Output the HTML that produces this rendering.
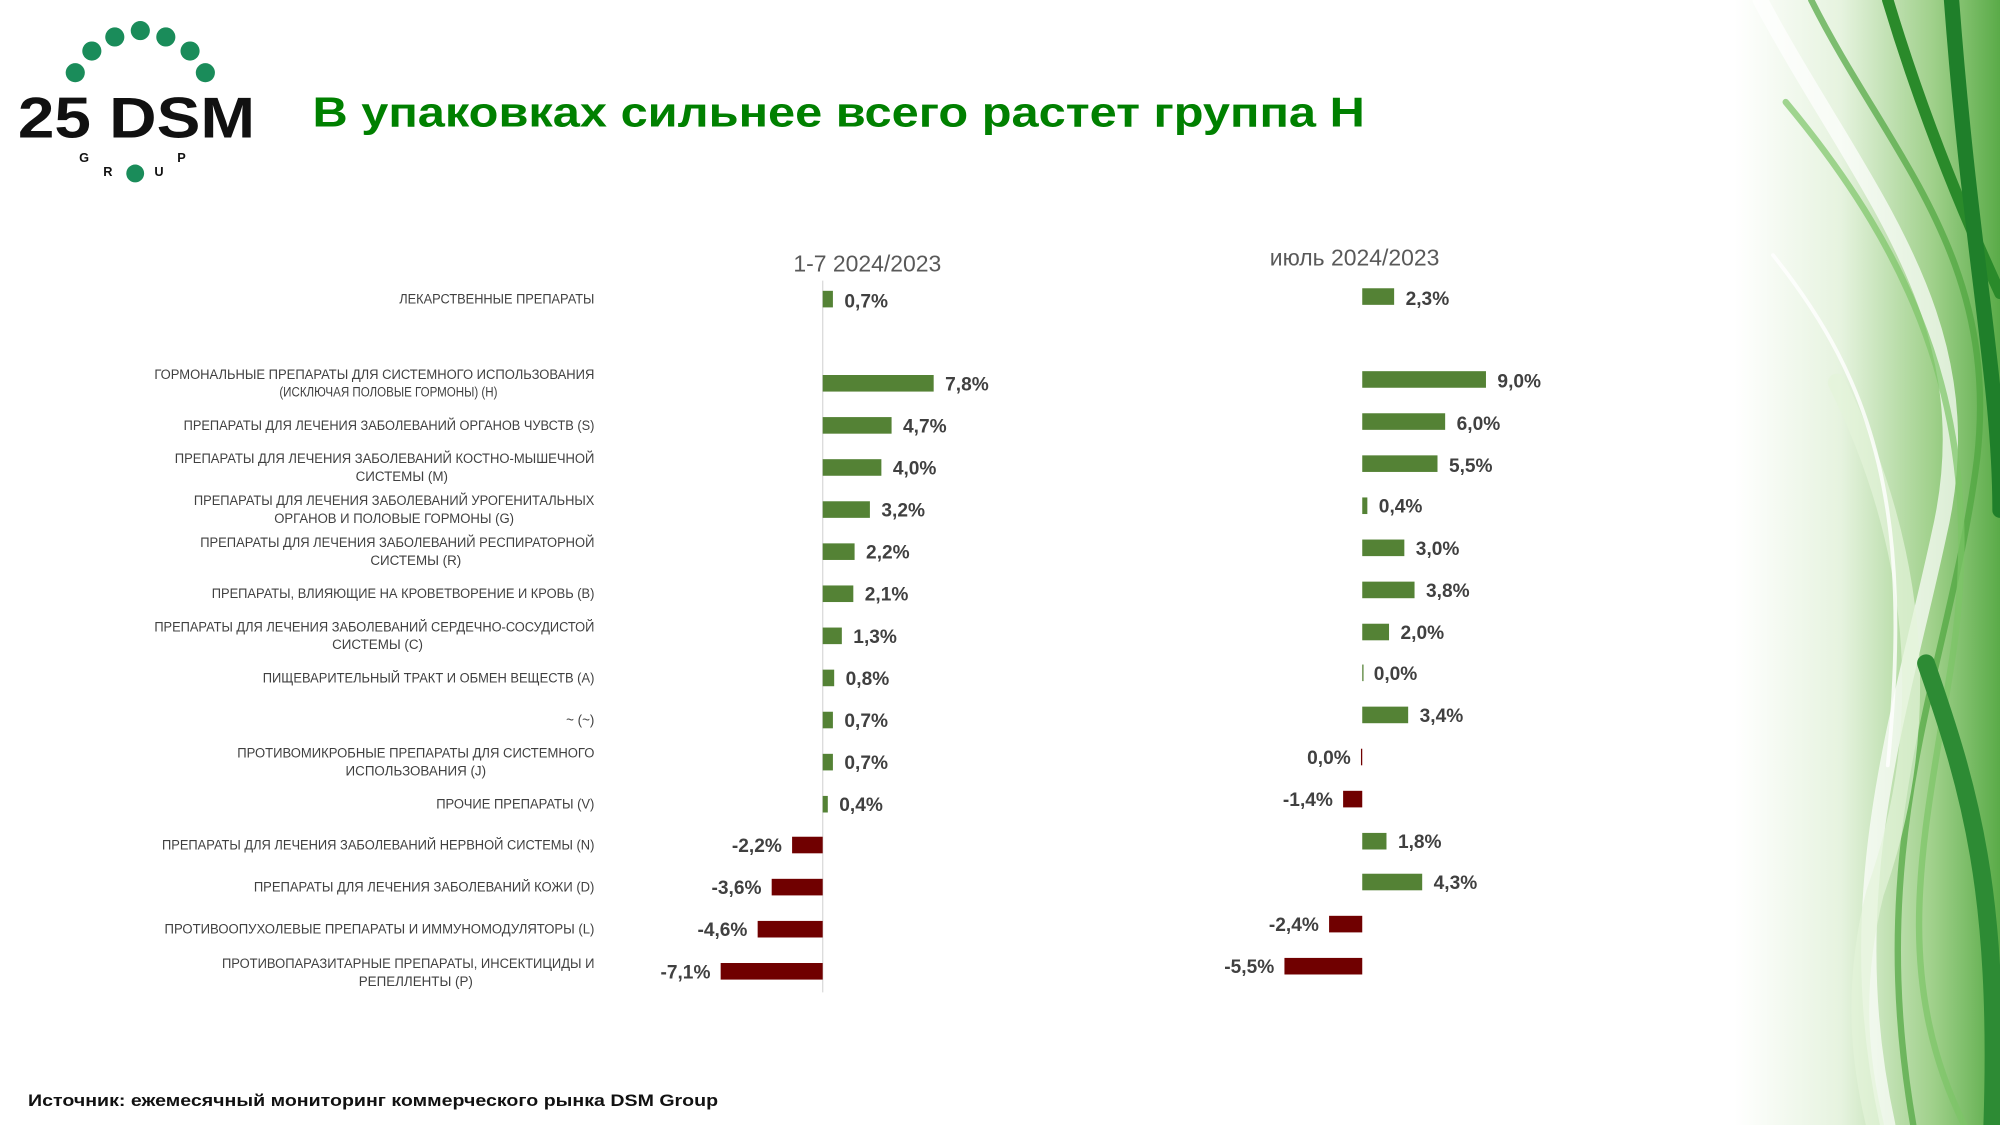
<!DOCTYPE html>
<html><head><meta charset="utf-8"><style>
html,body{margin:0;padding:0;background:#fff;}
svg{display:block;}
.lb{font-family:"Liberation Sans Narrow","Liberation Sans",sans-serif;font-size:10.5px;fill:#404040;}
.v{font-family:"Liberation Sans Narrow","Liberation Sans",sans-serif;font-size:15px;font-weight:bold;fill:#404040;}
</style></head><body>
<svg width="2000" height="1125" viewBox="0 0 1568 882" xmlns="http://www.w3.org/2000/svg">
<defs>
<linearGradient id="bg" x1="0" y1="0" x2="1" y2="0">
<stop offset="0" stop-color="#ffffff"/><stop offset="0.4" stop-color="#e6f3df"/><stop offset="0.75" stop-color="#9fd08a"/><stop offset="1" stop-color="#5aab48"/>
</linearGradient>
</defs>
<rect x="1360" y="0" width="208" height="882" fill="url(#bg)"/>
<g fill="none" stroke-linecap="round">
<path d="M1380 0 C1460 150 1560 250 1520 420 C1490 560 1440 700 1480 882" stroke="#ffffff" stroke-width="12" opacity="0.7"/>
<path d="M1420 0 C1480 120 1568 200 1550 360 C1530 520 1460 650 1500 882" stroke="#4ea53e" stroke-width="5" opacity="0.7"/>
<path d="M1480 0 C1510 100 1545 180 1568 230" stroke="#2a8a2a" stroke-width="9"/>
<path d="M1400 80 C1500 200 1560 330 1530 520 C1510 650 1480 760 1540 882" stroke="#7cc466" stroke-width="5" opacity="0.7"/>
<path d="M1440 300 C1500 420 1520 560 1470 700 C1450 780 1460 840 1470 882" stroke="#e4f4da" stroke-width="14" opacity="0.7"/>
<path d="M1530 0 C1545 200 1568 300 1568 400" stroke="#1f7f2a" stroke-width="12"/>
<path d="M1510 520 C1545 620 1568 700 1562 882" stroke="#2d8b34" stroke-width="14"/>
<path d="M1390 200 C1470 300 1500 400 1480 600" stroke="#ffffff" stroke-width="3" opacity="0.8"/>
</g>
<!-- logo -->
<g fill="#1a8c5a">
<circle cx="110" cy="24" r="7.5"/><circle cx="90" cy="29" r="7.5"/><circle cx="130" cy="29" r="7.5"/>
<circle cx="72" cy="40" r="7.5"/><circle cx="149" cy="40" r="7.5"/><circle cx="59" cy="57" r="7.5"/><circle cx="161" cy="57" r="7.5"/>
<circle cx="106" cy="136" r="7"/>
</g>
<text x="14" y="108" font-family="Liberation Sans,sans-serif" font-weight="bold" font-size="45" fill="#111" textLength="186" lengthAdjust="spacingAndGlyphs">25 DSM</text>
<g font-family="Liberation Sans,sans-serif" font-weight="bold" font-size="10" fill="#111">
<text x="62" y="127">G</text><text x="81" y="138">R</text><text x="121" y="138">U</text><text x="139" y="127">P</text>
</g>
<text x="245" y="99" font-family="Liberation Sans,sans-serif" font-weight="bold" font-size="33" fill="#008000" textLength="825" lengthAdjust="spacingAndGlyphs">В упаковках сильнее всего растет группа H</text>
<text x="680" y="213" text-anchor="middle" font-family="Liberation Sans Narrow,Liberation Sans,sans-serif" font-size="18" fill="#595959">1-7 2024/2023</text>
<text x="1062" y="208" text-anchor="middle" font-family="Liberation Sans Narrow,Liberation Sans,sans-serif" font-size="18" fill="#595959">июль 2024/2023</text>
<line x1="645" y1="220" x2="645" y2="778" stroke="#d9d9d9" stroke-width="1"/>
<g class="lb">
<text x="466" y="238" text-anchor="end" textLength="153" lengthAdjust="spacingAndGlyphs">ЛЕКАРСТВЕННЫЕ ПРЕПАРАТЫ</text>
<text x="466" y="297" text-anchor="end" textLength="345" lengthAdjust="spacingAndGlyphs">ГОРМОНАЛЬНЫЕ ПРЕПАРАТЫ ДЛЯ СИСТЕМНОГО ИСПОЛЬЗОВАНИЯ</text>
<text x="219" y="311" textLength="171" lengthAdjust="spacingAndGlyphs">(ИСКЛЮЧАЯ ПОЛОВЫЕ ГОРМОНЫ) (H)</text>
<text x="466" y="337" text-anchor="end" textLength="322" lengthAdjust="spacingAndGlyphs">ПРЕПАРАТЫ ДЛЯ ЛЕЧЕНИЯ ЗАБОЛЕВАНИЙ ОРГАНОВ ЧУВСТВ (S)</text>
<text x="466" y="363" text-anchor="end" textLength="329" lengthAdjust="spacingAndGlyphs">ПРЕПАРАТЫ ДЛЯ ЛЕЧЕНИЯ ЗАБОЛЕВАНИЙ КОСТНО-МЫШЕЧНОЙ</text>
<text x="315" y="377" text-anchor="middle">СИСТЕМЫ (M)</text>
<text x="466" y="396" text-anchor="end" textLength="314" lengthAdjust="spacingAndGlyphs">ПРЕПАРАТЫ ДЛЯ ЛЕЧЕНИЯ ЗАБОЛЕВАНИЙ УРОГЕНИТАЛЬНЫХ</text>
<text x="215" y="410" textLength="188" lengthAdjust="spacingAndGlyphs">ОРГАНОВ И ПОЛОВЫЕ ГОРМОНЫ (G)</text>
<text x="466" y="429" text-anchor="end" textLength="309" lengthAdjust="spacingAndGlyphs">ПРЕПАРАТЫ ДЛЯ ЛЕЧЕНИЯ ЗАБОЛЕВАНИЙ РЕСПИРАТОРНОЙ</text>
<text x="326" y="443" text-anchor="middle">СИСТЕМЫ (R)</text>
<text x="466" y="469" text-anchor="end" textLength="300" lengthAdjust="spacingAndGlyphs">ПРЕПАРАТЫ, ВЛИЯЮЩИЕ НА КРОВЕТВОРЕНИЕ И КРОВЬ (B)</text>
<text x="466" y="495" text-anchor="end" textLength="345" lengthAdjust="spacingAndGlyphs">ПРЕПАРАТЫ ДЛЯ ЛЕЧЕНИЯ ЗАБОЛЕВАНИЙ СЕРДЕЧНО-СОСУДИСТОЙ</text>
<text x="296" y="509" text-anchor="middle">СИСТЕМЫ (C)</text>
<text x="466" y="535" text-anchor="end" textLength="260" lengthAdjust="spacingAndGlyphs">ПИЩЕВАРИТЕЛЬНЫЙ ТРАКТ И ОБМЕН ВЕЩЕСТВ (A)</text>
<text x="466" y="568" text-anchor="end">~ (~)</text>
<text x="466" y="594" text-anchor="end" textLength="280" lengthAdjust="spacingAndGlyphs">ПРОТИВОМИКРОБНЫЕ ПРЕПАРАТЫ ДЛЯ СИСТЕМНОГО</text>
<text x="326" y="608" text-anchor="middle">ИСПОЛЬЗОВАНИЯ (J)</text>
<text x="466" y="634" text-anchor="end" textLength="124" lengthAdjust="spacingAndGlyphs">ПРОЧИЕ ПРЕПАРАТЫ (V)</text>
<text x="466" y="666" text-anchor="end" textLength="339" lengthAdjust="spacingAndGlyphs">ПРЕПАРАТЫ ДЛЯ ЛЕЧЕНИЯ ЗАБОЛЕВАНИЙ НЕРВНОЙ СИСТЕМЫ (N)</text>
<text x="466" y="699" text-anchor="end" textLength="267" lengthAdjust="spacingAndGlyphs">ПРЕПАРАТЫ ДЛЯ ЛЕЧЕНИЯ ЗАБОЛЕВАНИЙ КОЖИ (D)</text>
<text x="466" y="732" text-anchor="end" textLength="337" lengthAdjust="spacingAndGlyphs">ПРОТИВООПУХОЛЕВЫЕ ПРЕПАРАТЫ И ИММУНОМОДУЛЯТОРЫ (L)</text>
<text x="466" y="759" text-anchor="end" textLength="292" lengthAdjust="spacingAndGlyphs">ПРОТИВОПАРАЗИТАРНЫЕ ПРЕПАРАТЫ, ИНСЕКТИЦИДЫ И</text>
<text x="326" y="773" text-anchor="middle">РЕПЕЛЛЕНТЫ (P)</text>
</g>
<g>
<rect x="645" y="228" width="8" height="13" fill="#548235"/>
<rect x="645" y="294" width="87" height="13" fill="#548235"/>
<rect x="645" y="327" width="54" height="13" fill="#548235"/>
<rect x="645" y="360" width="46" height="13" fill="#548235"/>
<rect x="645" y="393" width="37" height="13" fill="#548235"/>
<rect x="645" y="426" width="25" height="13" fill="#548235"/>
<rect x="645" y="459" width="24" height="13" fill="#548235"/>
<rect x="645" y="492" width="15" height="13" fill="#548235"/>
<rect x="645" y="525" width="9" height="13" fill="#548235"/>
<rect x="645" y="558" width="8" height="13" fill="#548235"/>
<rect x="645" y="591" width="8" height="13" fill="#548235"/>
<rect x="645" y="624" width="4" height="13" fill="#548235"/>
<rect x="621" y="656" width="24" height="13" fill="#700000"/>
<rect x="605" y="689" width="40" height="13" fill="#700000"/>
<rect x="594" y="722" width="51" height="13" fill="#700000"/>
<rect x="565" y="755" width="80" height="13" fill="#700000"/>
</g>
<g class="v">
<text x="662" y="241">0,7%</text>
<text x="741" y="306">7,8%</text>
<text x="708" y="339">4,7%</text>
<text x="700" y="372">4,0%</text>
<text x="691" y="405">3,2%</text>
<text x="679" y="438">2,2%</text>
<text x="678" y="471">2,1%</text>
<text x="669" y="504">1,3%</text>
<text x="663" y="537">0,8%</text>
<text x="662" y="570">0,7%</text>
<text x="662" y="603">0,7%</text>
<text x="658" y="636">0,4%</text>
<text x="613" y="668" text-anchor="end">-2,2%</text>
<text x="597" y="701" text-anchor="end">-3,6%</text>
<text x="586" y="734" text-anchor="end">-4,6%</text>
<text x="557" y="767" text-anchor="end">-7,1%</text>
</g>
<g>
<rect x="1068" y="226" width="25" height="13" fill="#548235"/>
<rect x="1068" y="291" width="97" height="13" fill="#548235"/>
<rect x="1068" y="324" width="65" height="13" fill="#548235"/>
<rect x="1068" y="357" width="59" height="13" fill="#548235"/>
<rect x="1068" y="390" width="4" height="13" fill="#548235"/>
<rect x="1068" y="423" width="33" height="13" fill="#548235"/>
<rect x="1068" y="456" width="41" height="13" fill="#548235"/>
<rect x="1068" y="489" width="21" height="13" fill="#548235"/>
<rect x="1068" y="521" width="1" height="13" fill="#548235"/>
<rect x="1068" y="554" width="36" height="13" fill="#548235"/>
<rect x="1067" y="587" width="1" height="13" fill="#700000"/>
<rect x="1053" y="620" width="15" height="13" fill="#700000"/>
<rect x="1068" y="653" width="19" height="13" fill="#548235"/>
<rect x="1068" y="685" width="47" height="13" fill="#548235"/>
<rect x="1042" y="718" width="26" height="13" fill="#700000"/>
<rect x="1007" y="751" width="61" height="13" fill="#700000"/>
</g>
<g class="v">
<text x="1102" y="239">2,3%</text>
<text x="1174" y="304">9,0%</text>
<text x="1142" y="337">6,0%</text>
<text x="1136" y="370">5,5%</text>
<text x="1081" y="402">0,4%</text>
<text x="1110" y="435">3,0%</text>
<text x="1118" y="468">3,8%</text>
<text x="1098" y="501">2,0%</text>
<text x="1077" y="533">0,0%</text>
<text x="1113" y="566">3,4%</text>
<text x="1059" y="599" text-anchor="end">0,0%</text>
<text x="1045" y="632" text-anchor="end">-1,4%</text>
<text x="1096" y="665">1,8%</text>
<text x="1124" y="697">4,3%</text>
<text x="1034" y="730" text-anchor="end">-2,4%</text>
<text x="999" y="763" text-anchor="end">-5,5%</text>
</g>
<text x="22" y="867" font-family="Liberation Sans,sans-serif" font-weight="bold" font-size="13" fill="#111" textLength="541" lengthAdjust="spacingAndGlyphs">Источник: ежемесячный мониторинг коммерческого рынка DSM Group</text>
</svg>
</body></html>
